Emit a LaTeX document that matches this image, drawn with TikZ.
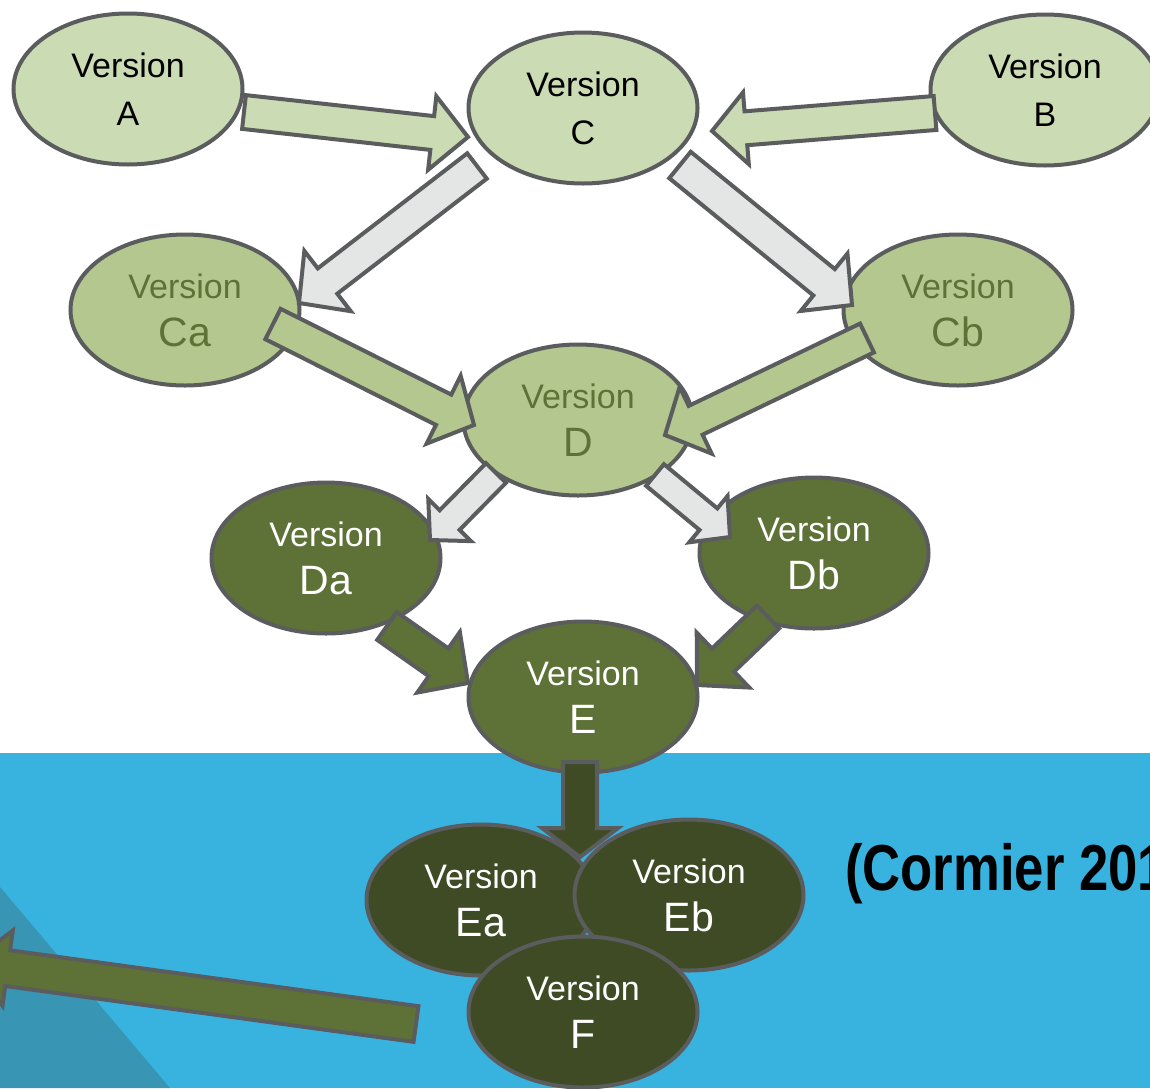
\documentclass[tikz,border=0pt]{standalone}
\usepackage{fontspec}
\setmainfont{Liberation Sans}
\usetikzlibrary{calc,shapes.geometric}
\definecolor{skyblue}{HTML}{38B3E0}
\definecolor{shadeblue}{HTML}{3895B3}
\definecolor{rimgray}{HTML}{5B5C5E}
\definecolor{palegreen}{HTML}{CBDBB3}
\definecolor{sagegreen}{HTML}{B3C78F}
\definecolor{olivegreen}{HTML}{5E7237}
\definecolor{darkolive}{HTML}{3E4B25}
\definecolor{mistgray}{HTML}{E4E6E5}
\def\fatarrow[#1](#2)(#3)(#4:#5:#6){\coordinate (fa-base) at ($(#3)!#6!(#2)$); \draw[#1] ($(#2)!#4!90:(#3)$) -- ($(fa-base)!#4!90:(#3)$) -- ($(fa-base)!#5!90:(#3)$) -- (#3) -- ($(fa-base)!#5!-90:(#3)$) -- ($(fa-base)!#4!-90:(#3)$) -- ($(#2)!#4!-90:(#3)$) -- cycle;}
\newcommand\tallline{\fontsize{41}{48}\selectfont}
\tikzset{
	version/.style={ellipse, draw=rimgray, line width=4pt, minimum width=229pt, minimum height=151pt, inner sep=2pt, align=center, font=\fontsize{34}{48}\selectfont},
	verpale/.style={version, fill=palegreen, text=black},
	versage/.style={version, fill=sagegreen, text=olivegreen},
	verolive/.style={version, fill=olivegreen, text=white},
	verdark/.style={version, fill=darkolive, text=white},
	push/.style={draw=rimgray, line width=4pt},
	pushpale/.style={push, fill=palegreen},
	pushsage/.style={push, fill=sagegreen},
	pushmist/.style={push, fill=mistgray},
	pusholive/.style={push, fill=olivegreen},
	pushdark/.style={push, fill=darkolive}
}
\begin{document}
\begin{tikzpicture}[x=1pt, y=-1pt]
		%%%%% START %%%%%
		\useasboundingbox (0,0) rectangle (1150,1088);
		\clip (0,0) rectangle (1150,1088);
		
		\fill[white] (0,0) rectangle (1150,753);
		\fill[skyblue] (0,753) rectangle (1150,1088);
		\fill[shadeblue] (0,887) -- (170,1088) -- (0,1088) -- cycle;
		
		\node[verpale] (A) at (128,89) {Version\\A};
		\node[verpale] (C) at (583,108) {Version\\C};
		\node[verpale] (B) at (1045,90) {Version\\B};
		
		\node[versage] (Ca) at (185,310) {Version\\\tallline Ca};
		\node[versage] (Cb) at (958,310) {Version\\\tallline Cb};
		\node[versage] (D) at (578,420) {Version\\\tallline D};
		
		\node[verolive] (Da) at (326,558) {Version\\\tallline Da};
		\node[verolive] (Db) at (814,553) {Version\\\tallline Db};
		\node[verolive] (E) at (583,697) {Version\\\tallline E};
		
		\node[verdark] (Ea) at (481,900) {Version\\\tallline Ea};
		\node[verdark] (Eb) at (689,895) {Version\\\tallline Eb};
		\node[verdark] (F) at (583,1012) {Version\\\tallline F};
		
		\node[anchor=base west, inner sep=0pt, font=\bfseries\fontsize{65}{78}\selectfont] (cite) at (845,890) {\scalebox{0.81}[1]{(Cormier 201}};
		
		\coordinate (A-out) at ($(A)+(116,23)$);
		\coordinate (C-inA) at ($(C)+(-115,29)$);
		\coordinate (B-out) at ($(B)+(-110,23)$);
		\coordinate (C-inB) at ($(C)+(129,23)$);
		\coordinate (C-outa) at ($(C)+(-106,58)$);
		\coordinate (Ca-in) at ($(Ca)+(114,-7)$);
		\coordinate (C-outb) at ($(C)+(97,57)$);
		\coordinate (Cb-in) at ($(Cb)+(-106,-5)$);
		\coordinate (Ca-out) at ($(Ca)+(88,14)$);
		\coordinate (D-ina) at ($(D)+(-104,5)$);
		\coordinate (Cb-out) at ($(Cb)+(-91,28)$);
		\coordinate (D-inb) at ($(D)+(87,15)$);
		\coordinate (D-outa) at ($(D)+(-82,53)$);
		\coordinate (Da-in) at ($(Da)+(104,-18)$);
		\coordinate (D-outb) at ($(D)+(77,55)$);
		\coordinate (Db-in) at ($(Db)+(-84,-16)$);
		\coordinate (Da-out) at ($(Da)+(61,68)$);
		\coordinate (E-ina) at ($(E)+(-115,-14)$);
		\coordinate (Db-out) at ($(Db)+(-46,64)$);
		\coordinate (E-inb) at ($(E)+(114,-12)$);
		\coordinate (E-out) at ($(E)+(-3,65)$);
		\coordinate (Eab-in) at ($(Ea)+(99,-43)$);
		\coordinate (F-out) at ($(F)+(-167,12)$);
		\coordinate (away) at (-30,963);
		
		\fatarrow[pushpale](A-out)(C-inA)(17pt:37pt:36pt)
		\fatarrow[pushpale](B-out)(C-inB)(17pt:36pt:34pt)
		\fatarrow[pushmist](C-outa)(Ca-in)(16pt:38pt:36pt)
		\fatarrow[pushmist](C-outb)(Cb-in)(17pt:37pt:36pt)
		\fatarrow[pushsage](Ca-out)(D-ina)(17pt:38pt:34pt)
		\fatarrow[pushsage](Cb-out)(D-inb)(16pt:37pt:34pt)
		\fatarrow[pushmist](D-outa)(Da-in)(14pt:30pt:28pt)
		\fatarrow[pushmist](D-outb)(Db-in)(14pt:30pt:28pt)
		\fatarrow[pusholive](Da-out)(E-ina)(17pt:37pt:36pt)
		\fatarrow[pusholive](Db-out)(E-inb)(16pt:38pt:36pt)
		\fatarrow[pushdark](E-out)(Eab-in)(17pt:38pt:29pt)
		\fatarrow[pusholive](F-out)(away)(18pt:38pt:38pt)
		
		%%%%% END %%%%%
	\end{tikzpicture}
\end{document}
